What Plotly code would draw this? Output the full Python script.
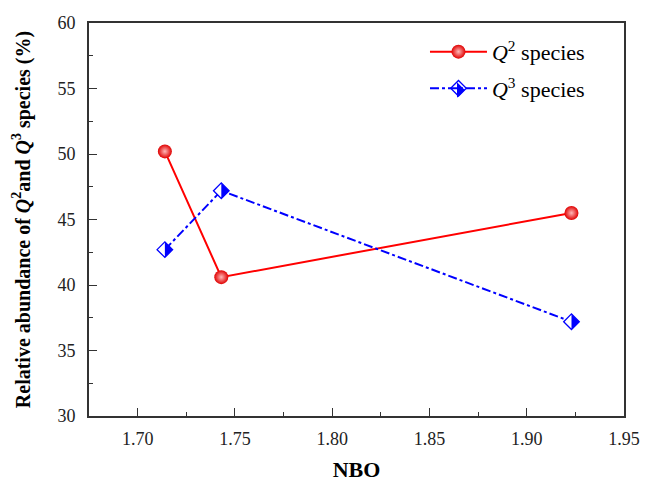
import plotly.graph_objects as go

nbo = [1.714, 1.743, 1.923]
q2 = [50.2, 40.6, 45.5]
q3 = [42.7, 47.2, 37.2]

FONT = "Liberation Serif"
RED = "#ff0000"
BLUE = "#0000ff"
DIAMOND_SIZE = 12
rd = round(DIAMOND_SIZE / 2 * 1.3, 2)

fig = go.Figure()
fig.add_trace(go.Scatter(
    x=nbo, y=q2, mode="lines+markers", name="<i>Q</i><sup>2</sup> species",
    line=dict(color=RED, width=2),
    marker=dict(symbol="circle", size=14, color="#e00000",
                gradient=dict(type="radial", color="#ffb8b8"),
                line=dict(width=0)),
    legendgroup="a",
))
fig.add_trace(go.Scatter(
    x=nbo, y=q3, mode="lines+markers", name="<i>Q</i><sup>3</sup> species",
    line=dict(color=BLUE, width=2, dash="dashdot"),
    marker=dict(symbol="diamond", size=DIAMOND_SIZE, color="white",
                line=dict(color=BLUE, width=1.3)),
    legendgroup="b", showlegend=False,
))
# legend entry for Q3 (transparent fill so the half-fill below shows through)
fig.add_trace(go.Scatter(
    x=[None], y=[None], mode="lines+markers", name="<i>Q</i><sup>3</sup> species",
    line=dict(color=BLUE, width=2, dash="dashdot"),
    marker=dict(symbol="diamond", size=DIAMOND_SIZE, color="rgba(255,255,255,0)",
                line=dict(color=BLUE, width=1.3)),
    legendgroup="b", showlegend=True,
))

half = f"M0,-{rd} L{rd},0 L0,{rd} Z"
left_half = f"M0,-{rd} L-{rd},0 L0,{rd} Z"
shapes = []
for xv, yv in zip(nbo, q3):
    shapes.append(dict(type="path", xref="x", yref="y", xsizemode="pixel",
                       ysizemode="pixel", xanchor=xv, yanchor=yv, path=half,
                       fillcolor=BLUE, line=dict(width=0), layer="above"))
# half fill for the legend glyph of the Q3 series
shapes.append(dict(type="path", xref="paper", yref="paper", xsizemode="pixel",
                   ysizemode="pixel", xanchor=0.6879, yanchor=0.8295, path=left_half,
                   fillcolor="white", line=dict(width=0), layer="above"))
shapes.append(dict(type="path", xref="paper", yref="paper", xsizemode="pixel",
                   ysizemode="pixel", xanchor=0.6879, yanchor=0.8295, path=half,
                   fillcolor=BLUE, line=dict(width=0), layer="above"))

axis_common = dict(
    showline=True, linecolor="#333333", linewidth=1.6, mirror=True,
    ticks="inside", ticklen=8, tickwidth=1.3, tickcolor="#333333",
    showgrid=False, zeroline=False, automargin=False,
    tickfont=dict(family=FONT, size=18, color="#222222"),
)

fig.update_layout(
    width=646, height=482,
    margin=dict(l=89, r=22, t=23, b=66),
    paper_bgcolor="white", plot_bgcolor="white",
    xaxis=dict(range=[1.675, 1.95], tickvals=[1.70, 1.75, 1.80, 1.85, 1.90, 1.95],
               ticktext=["1.70", "1.75", "1.80", "1.85", "1.90", "1.95"],
               minor=dict(dtick=0.025, tick0=1.675, ticks="inside", ticklen=4,
                          tickwidth=1.3, tickcolor="#333333", showgrid=False),
               ticklabelstandoff=6,
               title=dict(text="<b>NBO</b>", font=dict(family=FONT, size=22, color="black"),
                          standoff=24),
               **axis_common),
    yaxis=dict(range=[30, 60], dtick=5,
               minor=dict(dtick=2.5, ticks="inside", ticklen=4, tickwidth=1.3,
                          tickcolor="#333333", showgrid=False),
               ticklabelstandoff=8,
               title=dict(text="<b>Relative abundance of <i>Q</i><sup>2</sup>and <i>Q</i><sup>3</sup> species (%)</b>",
                          font=dict(family=FONT, size=20, color="black"), standoff=22),
               **axis_common),
    legend=dict(x=0.628, y=0.98, xanchor="left", yanchor="top",
                font=dict(family=FONT, size=22, color="black"),
                bgcolor="rgba(0,0,0,0)", tracegroupgap=5, itemwidth=57),
    shapes=shapes,
    showlegend=True,
)

fig.write_html("out.html")
